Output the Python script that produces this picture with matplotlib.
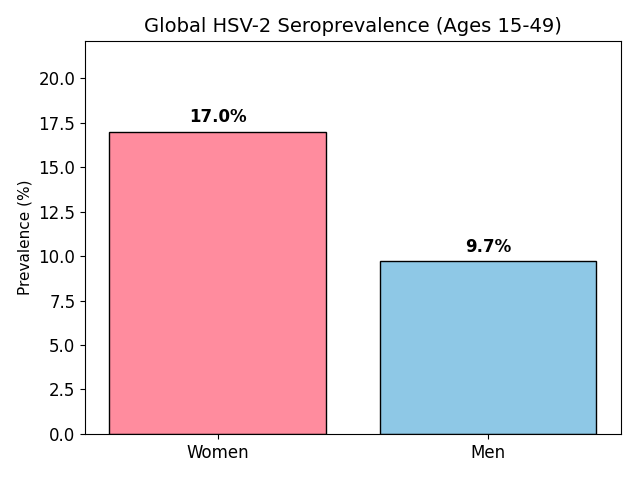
import matplotlib
matplotlib.use("Agg")
import matplotlib.pyplot as plt

groups = ["Women", "Men"]
prevalence = [17.0, 9.7]
bar_colors = ["#FF8C9E", "#8EC8E6"]

fig, ax = plt.subplots(figsize=(6.4, 4.8), dpi=100)
bars = ax.bar(groups, prevalence, color=bar_colors, edgecolor="black", linewidth=1)

for b, v in zip(bars, prevalence):
    ax.text(b.get_x() + b.get_width() / 2, v + 0.3, f"{v:.1f}%",
            ha="center", va="bottom", fontsize=12, fontweight="bold")

ax.set_ylim(0, max(prevalence) * 1.3)
ax.set_ylabel("Prevalence (%)", fontsize=11)
ax.set_title("Global HSV-2 Seroprevalence (Ages 15-49)", fontsize=14)
ax.tick_params(axis="both", labelsize=12)

fig.subplots_adjust(left=0.133, right=0.970, bottom=0.096, top=0.915)
plt.savefig("out.png")
